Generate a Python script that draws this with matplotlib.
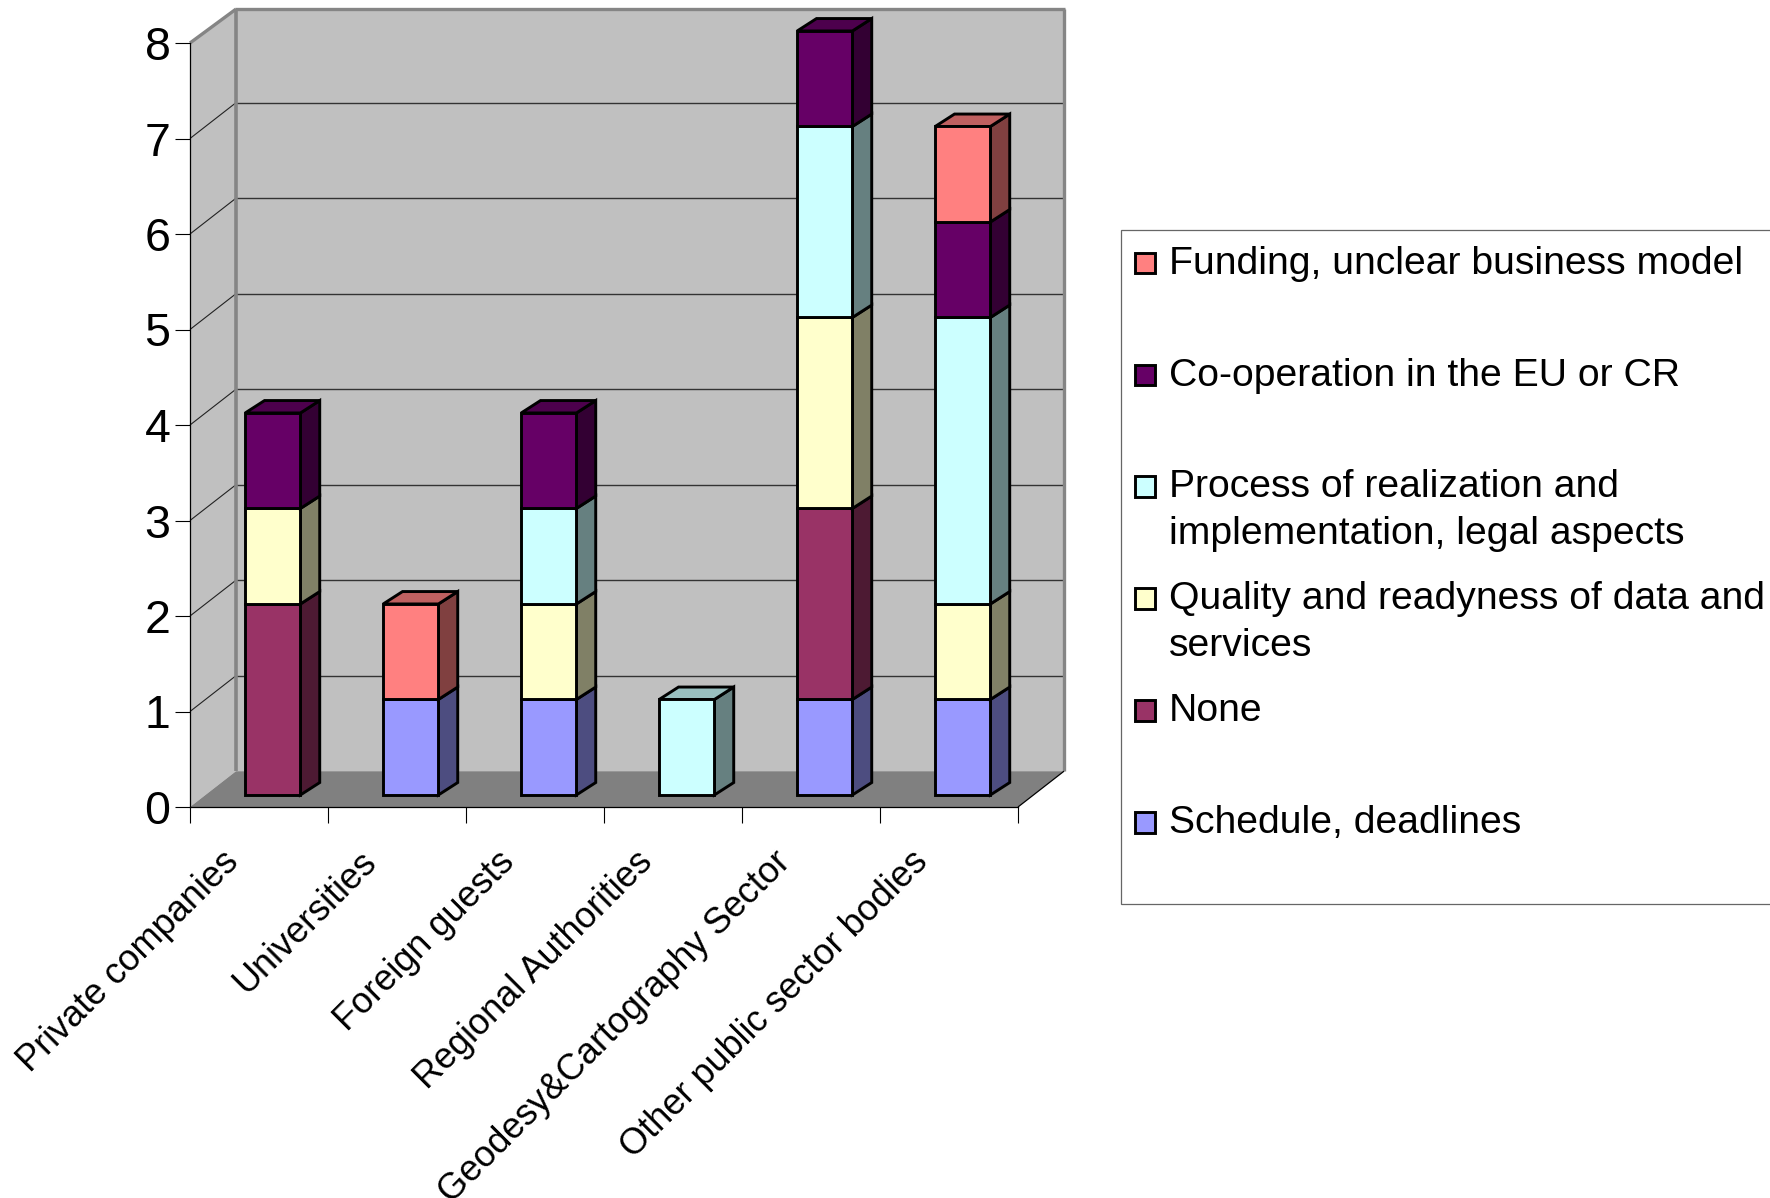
import matplotlib
matplotlib.use("Agg")
import matplotlib.pyplot as plt
from matplotlib.patches import Polygon, Rectangle
from matplotlib.legend_handler import HandlerBase
import numpy as np

plt.rcParams['font.family'] = ['Liberation Sans', 'DejaVu Sans']

categories = ["Private companies", "Universities", "Foreign guests",
              "Regional Authorities", "Geodesy&Cartography Sector", "Other public sector bodies"]
schedule = [0, 1, 1, 0, 1, 1]
none_ = [2, 0, 0, 0, 2, 0]
quality = [1, 0, 1, 0, 2, 1]
process = [0, 0, 1, 1, 2, 3]
cooperation = [1, 0, 1, 0, 1, 1]
funding = [0, 1, 0, 0, 0, 1]

series_values = [schedule, none_, quality, process, cooperation, funding]
series_labels = ["Schedule, deadlines", "None",
                 "Quality and readyness of data and\nservices",
                 "Process of realization and\nimplementation, legal aspects",
                 "Co-operation in the EU or CR",
                 "Funding, unclear business model"]
series_colors = ["#9999FF", "#993366", "#FFFFCC", "#CCFFFF", "#660066", "#FF8080"]

W, H = 1770, 1198
fig = plt.figure(figsize=(W / 100, H / 100), dpi=100, facecolor="white")
ax = fig.add_axes([190 / W, 1 - 807 / H, 828 / W, 764 / H])
ax.set_xlim(0, 6)
ax.set_ylim(0, 8)
ax.patch.set_visible(False)

# Depth of the box and of the bars, in data units
DX, DY, DY_TOP = 1 / 3, 0.375, 0.355
BW, OX, OY, BDX, BDY = 0.40, 0.10, 0.126, 0.14, 0.13

WALL, FLOOR, EDGE = "#C0C0C0", "#808080", "#858585"
LW_EDGE = 2.1


def add(pts, fc, ec="none", lw=0, z=1):
    ax.add_patch(Polygon(pts, closed=True, facecolor=fc, edgecolor=ec, linewidth=lw,
                         zorder=z, clip_on=False, joinstyle="miter"))


def line(xs, ys, c, lw, z=2):
    ax.plot(xs, ys, color=c, lw=lw, zorder=z, clip_on=False, solid_capstyle="butt")


def shade(col, f):
    return tuple(np.array(matplotlib.colors.to_rgb(col)) * f)


add([(DX, DY), (6 + DX, DY), (6 + DX, 8 + DY_TOP), (DX, 8 + DY_TOP)], WALL)
add([(0, 0), (DX, DY), (DX, 8 + DY_TOP), (0, 8)], WALL)
add([(0, 0), (6, 0), (6 + DX, DY), (DX, DY)], FLOOR)
for v in range(1, 8):
    line([DX, 6 + DX], [v + DY, v + DY], "#333333", 1.0)
    line([0, DX], [v, v + DY], "#222222", 0.8)
line([DX, DX], [DY, 8 + DY_TOP], EDGE, 2.6, 2.5)
line([6 + DX, 6 + DX], [DY, 8 + DY_TOP], EDGE, 2.4, 2.5)
line([DX - 0.01, 6 + DX + 0.01], [8 + DY_TOP, 8 + DY_TOP], EDGE, 2.4, 2.5)
line([0, DX], [8, 8 + DY_TOP], EDGE, 2.4, 2.5)
line([6, 6 + DX], [0, DY], "black", 0.9, 2.5)

z = 3
for i in range(len(categories)):
    x0, x1 = i + 0.5 - BW / 2 + OX, i + 0.5 + BW / 2 + OX
    base = OY
    segs = [(series_values[s][i], series_colors[s]) for s in range(len(series_values))
            if series_values[s][i] > 0]
    for k, (val, col) in enumerate(segs):
        top = base + val
        add([(x1, base), (x1 + BDX, base + BDY), (x1 + BDX, top + BDY), (x1, top)],
            shade(col, 0.5), "black", LW_EDGE, z)
        add([(x0, base), (x1, base), (x1, top), (x0, top)], col, "black", LW_EDGE, z + 0.1)
        if k == len(segs) - 1:
            add([(x0, top), (x1, top), (x1 + BDX, top + BDY), (x0 + BDX, top + BDY)],
                shade(col, 0.75), "black", LW_EDGE, z)
        base = top
        z += 0.2

for s in ("top", "right"):
    ax.spines[s].set_visible(False)
for s in ("left", "bottom"):
    ax.spines[s].set_linewidth(0.9)
    ax.spines[s].set_zorder(2.6)

ax.set_yticks(range(0, 9))
ax.tick_params(axis="y", length=11, width=0.8, labelsize=33.5, pad=3)
ax.set_xticks(range(0, 7))
ax.set_xticklabels([])
ax.set_xticks(np.arange(len(categories)) + 0.222, minor=True)
ax.set_xticklabels(categories, minor=True, rotation=45, ha="right", va="top",
                   rotation_mode="anchor", fontsize=26)
ax.tick_params(axis="x", which="major", length=11.5, width=0.8)
ax.tick_params(axis="x", which="minor", length=0, pad=27)


class SquareHandler(HandlerBase):
    """Legend key sitting on the first of the two text lines."""
    def create_artists(self, legend, orig, xd, yd, width, height, fontsize, trans):
        size = 15
        r = Rectangle((xd - 1.5, height + 0.2), size, size, facecolor=orig.get_facecolor(),
                      edgecolor="black", linewidth=LW_EDGE, transform=trans)
        return [r]


handles = [Rectangle((0, 0), 1, 1, facecolor=c) for c in series_colors][::-1]
labels = []
for lab in series_labels[::-1]:
    labels.append(lab if "\n" in lab else lab + "\n ")
leg = fig.legend(handles, labels, loc="upper left",
                 bbox_to_anchor=(1121 / W, 1 - 230 / H), bbox_transform=fig.transFigure,
                 fontsize=28.2, frameon=True, fancybox=False, edgecolor="#666666",
                 framealpha=1, borderaxespad=0, borderpad=0.4, labelspacing=0.74,
                 handlelength=0.8, handletextpad=0.03,
                 handler_map={Rectangle: SquareHandler()})
leg.get_frame().set_linewidth(0.9)
for t in leg.get_texts():
    t.set_linespacing(1.39)

fig.savefig("out.png", dpi=100, facecolor="white")
